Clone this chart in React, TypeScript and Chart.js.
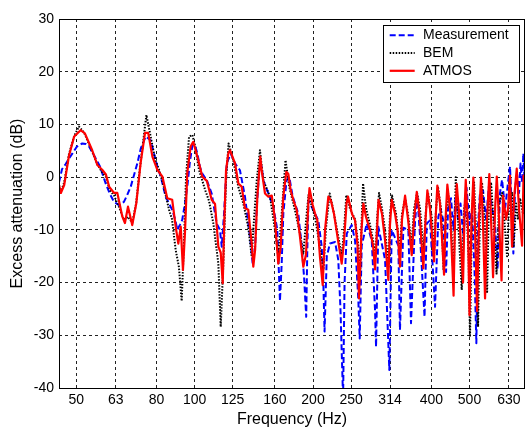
import React, { useEffect, useRef } from "react";
import { Chart, registerables } from "chart.js";

Chart.register(...registerables);

const freqTicks = [50, 63, 80, 100, 125, 160, 200, 250, 314, 400, 500, 630];
const freqMin = 45.2;
const freqMax = 692;
const dbMin = -40;
const dbMax = 30;

const measurementFreq = [
  45.2, 46.0, 47.0, 47.9, 48.9, 50.2, 51.8, 52.9, 53.9, 56.0,
  57.5, 59.4, 60.9, 62.4, 64.2, 66.1, 67.3, 68.8, 71.5, 73.0,
  75.1, 77.3, 78.8, 80.4, 82.1, 84.4, 86.1, 87.7, 89.2, 90.4,
  91.8, 93.0, 94.5, 95.8, 97.3, 98.7, 100.2, 101.6, 103.2, 104.6,
  107.4, 110.5, 113.8, 116.0, 117.2, 118.8, 120.7, 123.5, 126.7, 130.4,
  134.3, 138.3, 140.5, 142.5, 143.9, 146.0, 148.1, 149.5, 154.0, 158.5,
  162.3, 164.8, 166.5, 168.1, 171.3, 174.1, 177.6, 183.5, 187.2, 189.8,
  192.2, 193.5, 194.8, 200.4, 206.3, 210.5, 212.5, 214.0, 216.8, 220.9,
  227.6, 231.9, 234.9, 238.5, 240.6, 243.7, 250.9, 255.8, 260.8, 262.9,
  266.0, 274.0, 282.1, 287.6, 289.3, 293.2, 305.0, 310.3, 312.7, 317.1,
  329.6, 332.8, 339.5, 349.5, 355.0, 363.5, 368.4, 374.2, 384.3, 389.3,
  396.8, 408.7, 416.6, 422.0, 428.3, 435.9, 441.0, 448.7, 455.5, 460.8,
  467.6, 474.4, 482.9, 491.5, 500.0, 507.5, 515.1, 520.5, 525.7, 531.7,
  541.3, 551.0, 560.6, 570.6, 580.8, 589.3, 597.8, 605.0, 615.8, 626.6,
  633.8, 639.6, 646.4, 652.9, 660.6, 668.2, 674.1, 680.2, 685.4, 692,
];
const measurementDb = [
  -1, 1.5, 2.5, 3.5, 4.5, 5.8, 6.4, 6.3, 5.8, 3.6,
  2, -1.2, -3.2, -4.7, -5.3, -4.7, -3.5, -1.8, 2.6, 5.5,
  7.7, 7.0, 4.5, 2.0, 0, -3.7, -5, -6.2, -8, -10,
  -9, -8.1, -5, -1.8, 3, 6.0, 6.1, 4.5, 1.9, 0.7,
  -0.6, -3.1, -8.8, -10, -13.2, -6.9, 2.6, 4.5, 2.6, 1.3,
  -3.7, -11.3, -16.4, -13.2, -5.6, 1.3, 2.0, -0.6, -3.1, -5.6,
  -10, -23.5, -16.4, -6.9, -0.6, 0, -3.7, -6.9, -13.2, -18.9,
  -26.5, -13.2, -4.4, -6.3, -8.2, -13.2, -20, -29.3, -15, -12.6,
  -12.3, -15.7, -25, -42, -20, -10.7, -9.1, -12, -23.3, -30.6,
  -13, -8.8, -12, -25.2, -32.2, -9.4, -15.7, -30, -36.6, -10,
  -13, -29, -9.6, -10, -27.7, -8.3, -3.7, -11, -26.5, -8.8,
  -8.2, -24.6, -7.5, -6, -8, -18, -6, -4, -10, -3.5,
  -8, -5, -12, -2, -9, -6, -18, -31.5, -9, -3,
  -2.5, -8, -1.5, -6, -9, -17.5, -3, -0.5, -6, -1,
  2, -5, -14.5, -2, 0.6, -3, 2.6, -1, 4.5, -3,
];

const bemFreq = [
  45.2, 45.7, 46.6, 47.9, 49.4, 50.8, 52.3, 54.8, 56.5, 58.1,
  59.5, 60.9, 62.4, 64.2, 66.1, 67.7, 69.4, 71.0, 72.2, 73.5,
  75.4, 77.3, 79.3, 81.2, 83.6, 86.1, 87.6, 89.5, 91.2, 92.7,
  94.0, 95.1, 96.8, 98.7, 100.2, 102.6, 106.3, 108.8, 111.6, 114.9,
  116.5, 118.3, 120.2, 122.0, 125.4, 129.2, 133.0, 136.9, 139.7, 141.0,
  143.9, 146.6, 149.5, 155.5, 160.1, 163.2, 166.5, 170.3, 174.1, 180.0,
  185.3, 189.0, 192.8, 194.8, 202.4, 208.3, 212.5, 215.9, 220.5, 224.9,
  231.6, 236.6, 239.9, 243.1, 248.4, 255.8, 260.8, 263.3, 266.0, 268.1,
  272.9, 279.2, 284.3, 288.5, 291.0, 294.4, 299.6, 305.0, 311.2, 313.9,
  317.7, 325.3, 332.8, 336.8, 342.9, 348.9, 356.1, 361.4, 367.8, 374.2,
  382.1, 387.7, 392.2, 401.5, 406.3, 411.1, 415.9, 423.2, 429.6, 435.9,
  441.0, 448.7, 455.5, 461.4, 467.6, 477.8, 484.4, 490.1, 497.2, 501.5,
  507.5, 513.6, 519.6, 525.7, 531.7, 538.1, 547.7, 554.2, 560.6, 567.2,
  577.4, 585.9, 594.4, 605.0, 615.8, 623.0, 630.2, 641.5, 647.2, 656.8,
  664.4, 672.1, 684.2, 692,
];
const bemDb = [
  -1.5, -2.8, -1, 4.3, 7.8, 9.6, 8.5, 5.0, 2.5, 1.0,
  0, -2.5, -3.5, -5.6, -8.1, -7.5, -8.7, -5, 0.1, 5,
  11.8, 7.7, 3.5, 1.4, -2, -6.2, -8, -13.8, -17, -23.5,
  -12, 0, 7.7, 8.0, 6, 1.4, -2.4, -4.5, -8.8, -16.4,
  -28.4, -16.4, -0.6, 6.4, 3.2, -1.9, -5.0, -9.5, -15.1, -10,
  -0.6, 5.1, -0.6, -3.7, -10, -15.1, -6.9, 3.2, -1.9, -6.3,
  -10.7, -14.5, -6.9, -3.4, -7.6, -13.2, -17.6, -9.5, -3.1, -6,
  -11, -15, -10, -3.4, -6, -8, -13, -20, -8, -1.2,
  -6, -9, -12, -15, -8, -3, -6, -10, -17, -7,
  -3.5, -7, -14, -7, -4, -7, -13, -6, -3, -6,
  -14, -6, -3, -8, -15, -6, -2, -6, -17.6, -7,
  -3, -8, -20, 0, -8, -21.4, -6, -4, -15, -30.3,
  -6, -1, -10, -28.4, -6, -1, -10, -22, -4, -1,
  -10, -18.3, -5, -3, -10, -15, -5, -3, -13.3, -5,
  -8, -4, -7, -5,
];

const atmosFreq = [
  45.2, 45.7, 46.6, 47.9, 49.4, 51.3, 52.6, 54.9, 56.6, 58.2,
  59.5, 60.6, 62.4, 63.6, 65.5, 66.5, 67.7, 69.4, 71.1, 72.9,
  74.8, 76.2, 78.1, 80.4, 82.8, 85.2, 87.7, 89.5, 90.9, 92.2,
  93.4, 94.5, 95.8, 97.7, 99.2, 101.6, 104.6, 107.4, 110.5, 112.7,
  114.9, 116.5, 117.9, 118.8, 120.2, 121.8, 123.0, 126.7, 129.2, 131.7,
  134.3, 136.9, 139.7, 141.0, 142.5, 144.4, 146.9, 148.1, 151.0, 154.0,
  157.1, 160.1, 163.2, 165.5, 168.1, 171.1, 173.1, 175.5, 178.2, 181.8,
  185.3, 189.0, 192.0, 194.6, 195.9, 199.7, 202.4, 205.1, 208.3, 211.7,
  214.6, 218.8, 222.2, 226.2, 231.6, 236.6, 239.9, 243.4, 245.5, 251.3,
  255.8, 259.6, 261.8, 265.7, 268.6, 272.9, 279.2, 284.3, 287.6, 291.0,
  293.5, 299.6, 305.0, 310.9, 313.9, 317.1, 323.4, 328.1, 332.8, 336.8,
  342.9, 348.9, 356.5, 361.4, 367.2, 373.1, 381.6, 386.6, 390.7, 396.8,
  406.3, 409.9, 414.2, 420.7, 430.8, 434.6, 439.2, 446.1, 455.5, 459.5,
  464.1, 471.6, 481.5, 485.8, 489.2, 495.8, 500.0, 506.0, 511.4, 516.6,
  522.6, 528.7, 534.9, 541.3, 547.7, 554.2, 561.5, 567.2, 574.0, 580.8,
  586.6, 594.4, 603.2, 608.6, 619.4, 626.6, 633.8, 641.5, 649.1, 659.4,
  668.2, 680.2, 686.2, 692,
];
const atmosDb = [
  -1.5, -3.0, -1.5, 4.0, 7.7, 8.9, 8.3, 5.1, 2.3, 1.4,
  0.5, -1.8, -3.0, -3.0, -7.5, -8.7, -5.6, -9.1, -4.9, 2.7,
  8.4, 8.4, 3.9, 1.4, 0.1, -4.0, -4.3, -9.4, -12.6, -9.4,
  -17.6, -10.6, 0.8, 5.8, 6.7, 3.9, 0.1, -0.7, -4.3, -5.1,
  -13.2, -14.3, -20.1, -10, 1.3, 4.5, 5.1, 2.6, -1.2, -1.8,
  -5.9, -6.2, -12.6, -17.0, -13.8, -3.7, 3.9, 1.3, -3.1, -3.7,
  -3.5, -8.1, -16.4, -13.3, -3.7, 1.0, 0.6, -2.5, -4.3, -6.2,
  -11.3, -17.0, -14.6, -5.0, -2.1, -5.3, -6.9, -8.1, -15.1, -20.5,
  -10, -3.7, -4.5, -7, -12, -16.4, -12, -5, -3.7, -7,
  -8.2, -13, -23, -10, -5, -7.6, -10, -13, -17.5, -10,
  -4.3, -7, -12, -19.5, -9, -4.3, -7, -10, -17, -8,
  -3.5, -8, -14.8, -8, -2.8, -7, -17.3, -8, -2.5, -6,
  -16, -8, -1.6, -5, -18.5, -8, -1.4, -6, -22.5, -8,
  -1.3, -8, -20, -6, -0.5, -10, -26.2, -8, -0.1, -10,
  -25.4, -8, -0.1, -9, -23, -8, 0.6, -8, -19, -6,
  0.1, -8, -19.6, -3.5, -8, -6, 0.3, -13.2, -4, 1.6,
  -6, -13, 0.3, -6,
];

const FONT = 'Arial, "Liberation Sans", Helvetica, sans-serif';

const toPoints = (xs: number[], ys: number[]) => xs.map((x, i) => ({ x, y: ys[i] }));

export default function App() {
  const ref = useRef<HTMLCanvasElement>(null);

  useEffect(() => {
    document.body.style.margin = "0";
    const canvas = ref.current;
    if (!canvas) return;

    const framePlugin = {
      id: "frameBox",
      afterDatasetsDraw(chart: any) {
        const { ctx, chartArea: a } = chart;
        ctx.save();
        ctx.setLineDash([]);
        ctx.strokeStyle = "#000";
        ctx.lineWidth = 1;
        ctx.strokeRect(a.left + 0.5, a.top + 0.5, a.right - a.left - 1, a.bottom - a.top);
        ctx.restore();
      },
    };

    const legendPlugin = {
      id: "boxLegend",
      afterDraw(chart: any) {
        const { ctx, chartArea: a } = chart;
        const bx = a.right - 141.5;
        const by = a.top + 6.5;
        const bw = 136;
        const bh = 57;
        ctx.save();
        ctx.setLineDash([]);
        ctx.fillStyle = "#fff";
        ctx.fillRect(bx, by, bw, bh);
        ctx.strokeStyle = "#000";
        ctx.lineWidth = 1;
        ctx.strokeRect(bx, by, bw, bh);
        chart.data.datasets.forEach((ds: any, i: number) => {
          const y = by + 9.7 + i * 17.8;
          ctx.beginPath();
          ctx.setLineDash(ds.borderDash || []);
          ctx.strokeStyle = ds.borderColor;
          ctx.lineWidth = ds.borderWidth;
          ctx.moveTo(bx + 6.2, y);
          ctx.lineTo(bx + 31.2, y);
          ctx.stroke();
          ctx.setLineDash([]);
          ctx.fillStyle = "#000";
          ctx.font = `14px ${FONT}`;
          ctx.textBaseline = "middle";
          ctx.textAlign = "left";
          ctx.fillText(ds.label, bx + 39.5, y + 0.3);
        });
        ctx.restore();
      },
    };

    const chart = new Chart(canvas, {
      type: "line",
      data: {
        datasets: [
          {
            label: "Measurement",
            data: toPoints(measurementFreq, measurementDb),
            borderColor: "#0000ff",
            borderWidth: 2,
            borderDash: [6, 3],
            borderJoinStyle: "round",
            pointRadius: 0,
            tension: 0,
            order: 3,
          },
          {
            label: "BEM",
            data: toPoints(bemFreq, bemDb),
            borderColor: "#000000",
            borderWidth: 2,
            borderDash: [1.5, 1.5],
            borderJoinStyle: "round",
            pointRadius: 0,
            tension: 0,
            order: 2,
          },
          {
            label: "ATMOS",
            data: toPoints(atmosFreq, atmosDb),
            borderColor: "#ff0000",
            borderWidth: 2.2,
            borderJoinStyle: "round",
            pointRadius: 0,
            tension: 0,
            order: 1,
          },
        ],
      },
      options: {
        responsive: false,
        animation: false,
        events: [],
        layout: { padding: { top: 19, right: 1, left: 0, bottom: 0 } },
        plugins: { legend: { display: false }, tooltip: { enabled: false } },
        scales: {
          x: {
            type: "logarithmic",
            min: freqMin,
            max: freqMax,
            afterBuildTicks: (s: any) => {
              s.ticks = freqTicks.map((v) => ({ value: v }));
            },
            afterFit: (s: any) => {
              s.height = 42;
            },
            ticks: {
              autoSkip: false,
              maxRotation: 0,
              padding: 4,
              color: "#000",
              font: { family: FONT, size: 14 },
              callback: (v: any) => String(v),
            },
            grid: { color: "#222", lineWidth: 1, drawTicks: false },
            border: { display: false, dash: [3, 3] },
            title: {
              display: true,
              text: "Frequency (Hz)",
              color: "#000",
              font: { family: FONT, size: 16 },
              padding: { top: 0, bottom: 1 },
            },
          },
          y: {
            type: "linear",
            min: dbMin,
            max: dbMax,
            afterFit: (s: any) => {
              s.width = 59;
            },
            ticks: {
              stepSize: 10,
              padding: 5,
              color: "#000",
              font: { family: FONT, size: 14 },
            },
            grid: { color: "#222", lineWidth: 1, drawTicks: false },
            border: { display: false, dash: [3, 3] },
            title: {
              display: true,
              text: "Excess attenuation (dB)",
              color: "#000",
              font: { family: FONT, size: 16 },
              padding: { top: 8.4, bottom: 0 },
            },
          },
        },
      },
      plugins: [framePlugin, legendPlugin],
    } as any);

    return () => chart.destroy();
  }, []);

  return <canvas ref={ref} width={526} height={430} style={{ display: "block" }} />;
}
